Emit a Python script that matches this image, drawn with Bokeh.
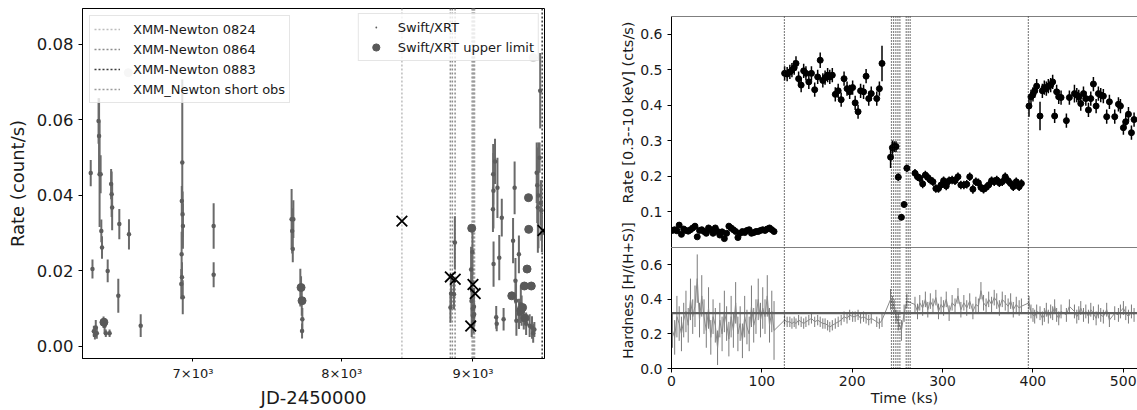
import numpy as np
from bokeh.plotting import figure
from bokeh.layouts import row, column
from bokeh.models import (Range1d, FixedTicker, Span, Legend, LegendItem,
                          PrintfTickFormatter)
from bokeh.core.properties import value
from bokeh.embed import file_html
from bokeh.resources import INLINE

FONT = "DejaVu Sans"

# ---------------- Left panel data (JD-2450000, count/s) ----------------
swift_jd = [6386, 6396, 6404, 6410, 6415, 6421, 6431, 6434, 6437, 6443, 6447, 6451,
            6460, 6466, 6473, 6484, 6495, 6504, 6507, 6510, 6546, 6552, 6609, 6679,
            6933, 6930, 6935, 6937, 6929, 6931, 6927, 6936,
            7131, 7131,
            7648, 7652, 7656, 7660, 7708, 7713, 7718, 7722, 7720,
            8855, 8848, 8820, 8825,
            8985, 8992, 8995, 8988, 8998, 9002, 9005, 8990, 9008, 9010, 8996,
            9165, 9167, 9163, 9168, 9180, 9190, 9194, 9200, 9215, 9236, 9251, 9330,
            9343, 9350, 9355, 9358, 9379, 9380, 9395, 9402, 9420, 9440, 9470, 9490,
            9510, 9500, 9530, 9535, 9540, 9545, 9560, 9565, 9570, 9575, 9555]
swift_rate = [0.0459, 0.0205, 0.0040, 0.0030, 0.0050, 0.0035, 0.0597, 0.0557, 0.0456, 0.0456,
              0.0306, 0.0262, 0.0064, 0.0055, 0.0035, 0.0200, 0.0035, 0.0430, 0.0403, 0.0368,
              0.0134, 0.0324, 0.0297, 0.0055,
              0.0487, 0.0385, 0.0350, 0.0319, 0.0244, 0.0183, 0.0165, 0.0130,
              0.0319, 0.0190,
              0.0337, 0.0306, 0.0258, 0.0337, 0.0156, 0.0156, 0.0121, 0.0072, 0.0041,
              0.0275, 0.0138, 0.0103, 0.0140,
              0.0204, 0.0170, 0.0148, 0.0120, 0.0100, 0.0080, 0.0065, 0.0055, 0.0105, 0.0085, 0.0250,
              0.0456, 0.0412, 0.0363, 0.0218, 0.0490, 0.0077, 0.0060, 0.0420, 0.0235, 0.0341,
              0.0072, 0.0280, 0.0420, 0.0174, 0.0121, 0.0068, 0.0244, 0.0086, 0.0112, 0.0095,
              0.0075, 0.0060, 0.0055, 0.0050, 0.0045, 0.0035, 0.0460, 0.0427, 0.0368, 0.0400,
              0.0677, 0.0380, 0.0360, 0.0300, 0.0500]
swift_err = [0.0035, 0.0025, 0.0015, 0.0012, 0.002, 0.0015, 0.006, 0.010, 0.014, 0.005,
             0.003, 0.003, 0.0015, 0.002, 0.001, 0.003, 0.001, 0.004, 0.006, 0.006,
             0.0045, 0.004, 0.004, 0.003,
             0.022, 0.004, 0.006, 0.006, 0.006, 0.004, 0.004, 0.0045,
             0.006, 0.0033,
             0.008, 0.006, 0.0035, 0.005, 0.005, 0.003, 0.004, 0.003, 0.002,
             0.007, 0.004, 0.004, 0.004,
             0.006, 0.008, 0.005, 0.004, 0.004, 0.004, 0.003, 0.003, 0.005, 0.003, 0.006,
             0.008, 0.010, 0.006, 0.006, 0.006, 0.003, 0.002, 0.008, 0.006, 0.005,
             0.003, 0.006, 0.007, 0.006, 0.005, 0.004, 0.005, 0.004, 0.005, 0.004,
             0.003, 0.003, 0.003, 0.003, 0.002, 0.0025, 0.008, 0.010, 0.012, 0.014,
             0.010, 0.006, 0.008, 0.005, 0.004]
ul_jd = [6462, 7713, 7720, 8990, 9319, 9395, 9410, 9425, 9430, 9448, 9460, 9462, 9484]
ul_rate = [0.0064, 0.0156, 0.0121, 0.0313, 0.0134, 0.0095, 0.0103, 0.0160, 0.0075,
           0.0205, 0.0394, 0.0310, 0.0160]
faded_jd = [6605, 9500]
faded_rate = [0.0725, 0.0765]
xmm_jd = [8444, 8819, 8858, 9000, 9018, 8982, 9584]
xmm_rate = [0.0332, 0.0184, 0.0178, 0.0164, 0.0140, 0.0054, 0.0307]
obs_0824 = [8444]
obs_0864 = [8819, 8835, 8857]
obs_0883 = [9577]
obs_short = [8993, 9000, 9007, 9013]

# ---------------- Right panel data (ks) ----------------
time_ks = [1.0, 3.5, 6.0, 8.5, 11.0, 13.5, 16.0, 18.5, 21.0, 23.5, 26.0, 28.5, 31.0, 33.5,
           36.0, 38.5, 41.0, 43.5, 46.0, 48.5, 51.0, 53.5, 56.0, 58.5, 61.0, 63.5, 66.0,
           68.5, 71.0, 73.5, 76.0, 78.5, 81.0, 83.5, 86.0, 88.5, 91.0, 93.5, 96.0, 98.5,
           101.0, 103.5, 106.0, 108.5, 111.0, 113.5,
           125.2, 128.0, 131.0, 133.3, 135.8, 137.8, 140.7, 143.5, 146.3, 148.8, 152.0,
           154.9, 158.5, 161.8, 164.6, 167.5, 170.0, 172.8, 175.2, 178.0, 181.3, 184.5,
           187.8, 191.0, 194.3, 197.2, 200.5, 203.3, 206.5, 209.3, 212.6, 215.4, 218.3,
           221.1, 227.2, 230.1, 233.0,
           242.5, 244.5, 246.5, 248.5, 251.0, 254.5, 257.5, 260.5,
           269.5, 272.3, 274.8, 278.0, 281.0, 283.7, 286.5, 289.4, 292.6, 295.5, 298.4,
           301.2, 304.1, 307.3, 310.6, 313.8, 317.1, 320.3, 323.6, 326.8, 330.1, 333.6,
           336.9, 339.7, 342.5, 345.4, 348.2, 351.1, 354.3, 357.2, 360.0, 362.9, 366.1,
           369.4, 372.6, 375.4, 378.3, 381.6, 384.8, 387.3,
           395.7, 397.9, 400.1, 402.0, 404.2, 407.9, 410.5, 412.7, 414.9, 417.1, 419.7,
           421.9, 424.1, 426.3, 428.6, 431.2, 437.1, 440.4, 446.0, 448.6, 450.8, 453.0,
           456.0, 458.6, 461.5, 464.1, 467.0, 470.0, 472.5, 475.1, 478.0, 481.7, 484.7,
           490.6, 494.7, 496.9, 500.2, 502.8, 505.8, 509.1, 512.0]
rate = [0.048, 0.05, 0.047, 0.063, 0.037, 0.052, 0.048, 0.046, 0.05, 0.055, 0.06, 0.03,
        0.048, 0.05, 0.045, 0.04, 0.055, 0.05, 0.04, 0.055, 0.045, 0.035, 0.044, 0.025,
        0.04, 0.06, 0.055, 0.05, 0.045, 0.028, 0.04, 0.045, 0.042, 0.048, 0.05, 0.04,
        0.042, 0.045, 0.045, 0.048, 0.05, 0.048, 0.052, 0.055, 0.05, 0.045,
        0.49, 0.488, 0.494, 0.499, 0.506, 0.518, 0.475, 0.457, 0.497, 0.49, 0.466, 0.49,
        0.444, 0.48, 0.527, 0.47, 0.478, 0.485, 0.48, 0.485, 0.431, 0.441, 0.416, 0.475,
        0.447, 0.438, 0.45, 0.407, 0.382, 0.441, 0.438, 0.482, 0.419, 0.433, 0.419, 0.447,
        0.518,
        0.254, 0.281, 0.284, 0.284, 0.198, 0.085, 0.121, 0.223,
        0.209, 0.199, 0.195, 0.179, 0.204, 0.197, 0.19, 0.185, 0.166, 0.166, 0.176, 0.188,
        0.173, 0.188, 0.19, 0.188, 0.199, 0.176, 0.176, 0.178, 0.199, 0.164, 0.185, 0.182,
        0.169, 0.164, 0.169, 0.176, 0.188, 0.185, 0.19, 0.182, 0.185, 0.199, 0.188, 0.18,
        0.171, 0.185, 0.171, 0.18,
        0.398, 0.424, 0.431, 0.441, 0.454, 0.37, 0.441, 0.45, 0.447, 0.454, 0.457, 0.466,
        0.37, 0.438, 0.424, 0.422, 0.357, 0.422, 0.433, 0.429, 0.424, 0.405, 0.433, 0.419,
        0.387, 0.419, 0.46, 0.398, 0.433, 0.429, 0.426, 0.368, 0.41, 0.368, 0.403, 0.398,
        0.337, 0.354, 0.375, 0.323, 0.36]
rate_err = [0.006, 0.006, 0.006, 0.007, 0.006, 0.006, 0.006, 0.006, 0.006, 0.007, 0.008, 0.006,
            0.006, 0.006, 0.006, 0.006, 0.007, 0.006, 0.006, 0.006, 0.006, 0.006, 0.006, 0.006,
            0.006, 0.007, 0.006, 0.006, 0.006, 0.006, 0.006, 0.006, 0.006, 0.006, 0.006, 0.006,
            0.006, 0.006, 0.006, 0.006, 0.006, 0.006, 0.006, 0.007, 0.006, 0.006,
            0.02, 0.02, 0.02, 0.02, 0.02, 0.02, 0.02, 0.02, 0.02, 0.02, 0.02, 0.02, 0.02, 0.02,
            0.022, 0.02, 0.02, 0.02, 0.02, 0.02, 0.02, 0.02, 0.02, 0.02, 0.02, 0.02, 0.02, 0.02,
            0.02, 0.02, 0.02, 0.02, 0.02, 0.02, 0.02, 0.02, 0.05,
            0.03, 0.02, 0.015, 0.015, 0.01, 0.008, 0.008, 0.01,
            0.012, 0.012, 0.012, 0.012, 0.012, 0.012, 0.012, 0.012, 0.012, 0.012, 0.012, 0.012,
            0.012, 0.012, 0.012, 0.012, 0.012, 0.012, 0.012, 0.012, 0.012, 0.013, 0.012, 0.012,
            0.012, 0.012, 0.012, 0.012, 0.012, 0.012, 0.012, 0.012, 0.012, 0.012, 0.012, 0.012,
            0.012, 0.012, 0.012, 0.012,
            0.03, 0.02, 0.02, 0.02, 0.02, 0.04, 0.02, 0.02, 0.02, 0.02, 0.02, 0.02,
            0.02, 0.02, 0.02, 0.02, 0.02, 0.02, 0.025, 0.02, 0.02, 0.02, 0.02, 0.02,
            0.02, 0.02, 0.02, 0.02, 0.02, 0.02, 0.02, 0.02, 0.02, 0.02, 0.02, 0.02,
            0.02, 0.02, 0.02, 0.02, 0.02]
hardness = [0.22, 0.18, 0.3, 0.26, 0.2, 0.28, 0.33, 0.25, 0.4, 0.3, 0.36, 0.52, 0.28, 0.42,
            0.3, 0.22, 0.35, 0.18, 0.3, 0.25, 0.12, 0.28, 0.2, 0.33, 0.26, 0.17, 0.3, 0.22,
            0.38, 0.2, 0.26, 0.16, 0.3, 0.24, 0.2, 0.36, 0.25, 0.3, 0.4, 0.28, 0.35, 0.3,
            0.42, 0.25, 0.33, 0.22,
            0.28, 0.27, 0.27, 0.26, 0.27, 0.26, 0.28, 0.27, 0.26, 0.27, 0.28, 0.29, 0.27,
            0.28, 0.27, 0.26, 0.26, 0.25, 0.24, 0.25, 0.26, 0.27, 0.28, 0.3, 0.29, 0.31,
            0.3, 0.3, 0.31, 0.29, 0.3, 0.29, 0.28, 0.29, 0.27, 0.26, 0.28,
            0.4, 0.38, 0.36, 0.3, 0.27, 0.22, 0.32, 0.39,
            0.37, 0.33, 0.38, 0.35, 0.4, 0.34, 0.39, 0.36, 0.41, 0.33, 0.37, 0.35, 0.4, 0.32,
            0.38, 0.36, 0.42, 0.34, 0.38, 0.35, 0.39, 0.33, 0.37, 0.36, 0.45, 0.38, 0.36, 0.4,
            0.37, 0.41, 0.39, 0.35, 0.4, 0.38, 0.36, 0.39, 0.34, 0.37, 0.35, 0.36,
            0.38, 0.33, 0.31, 0.3, 0.33, 0.32, 0.29, 0.31, 0.34, 0.3, 0.33, 0.32, 0.36, 0.31,
            0.29, 0.33, 0.31, 0.36, 0.33, 0.3, 0.32, 0.35, 0.31, 0.33, 0.3, 0.34, 0.32, 0.29,
            0.33, 0.31, 0.3, 0.34, 0.28, 0.32, 0.31, 0.33, 0.35, 0.32, 0.3, 0.33, 0.31]
hard_err = [0.1, 0.1, 0.12, 0.1, 0.1, 0.1, 0.12, 0.1, 0.12, 0.1, 0.12, 0.14, 0.1, 0.12,
            0.1, 0.1, 0.12, 0.1, 0.1, 0.1, 0.1, 0.1, 0.1, 0.12, 0.1, 0.1, 0.12, 0.1,
            0.12, 0.1, 0.1, 0.1, 0.12, 0.1, 0.1, 0.12, 0.1, 0.1, 0.12, 0.1, 0.12, 0.1,
            0.12, 0.1, 0.12, 0.17,
            0.03, 0.03, 0.03, 0.03, 0.03, 0.03, 0.03, 0.03, 0.03, 0.03, 0.03, 0.03, 0.03,
            0.03, 0.03, 0.03, 0.03, 0.03, 0.03, 0.03, 0.03, 0.03, 0.03, 0.03, 0.03, 0.03,
            0.03, 0.03, 0.03, 0.03, 0.03, 0.03, 0.03, 0.03, 0.03, 0.03, 0.04,
            0.06, 0.04, 0.04, 0.04, 0.05, 0.06, 0.05, 0.04,
            0.045, 0.045, 0.045, 0.045, 0.045, 0.045, 0.045, 0.045, 0.045, 0.045, 0.045,
            0.045, 0.045, 0.045, 0.045, 0.045, 0.045, 0.045, 0.045, 0.045, 0.045, 0.045,
            0.045, 0.045, 0.05, 0.045, 0.045, 0.045, 0.045, 0.045, 0.045, 0.045, 0.045,
            0.045, 0.045, 0.045, 0.045, 0.045, 0.045, 0.045,
            0.04, 0.04, 0.04, 0.04, 0.04, 0.04, 0.04, 0.04, 0.04, 0.04, 0.04, 0.04, 0.04,
            0.04, 0.04, 0.04, 0.04, 0.04, 0.04, 0.04, 0.04, 0.04, 0.04, 0.04, 0.04, 0.04,
            0.04, 0.04, 0.04, 0.04, 0.04, 0.04, 0.04, 0.04, 0.04, 0.04, 0.04, 0.04, 0.04,
            0.04, 0.04]
hardness_mean = 0.32
xmm_cuts_ks = [125.0, 243.5, 245.8, 248.3, 250.6, 252.8, 259.8, 262.0, 264.2, 395.0]
rate_ylabel = "Rate [0.3--10 keV] (cts/s)"
hard_ylabel = "Hardness [H/(H+S)]"

# ---------------- helpers ----------------
def style_axis(ax, tick_px, label_px, tick_out=4, standoff=5, label_standoff=5):
    ax.major_label_text_font = FONT
    ax.major_label_text_font_size = tick_px
    ax.major_label_text_color = "#1a1a1a"
    ax.axis_label_text_font = FONT
    ax.axis_label_text_font_size = label_px
    ax.axis_label_text_font_style = "normal"
    ax.axis_label_text_color = "#1a1a1a"
    ax.axis_line_color = "black"
    ax.major_tick_line_color = "black"
    ax.major_tick_out = tick_out
    ax.major_tick_in = 0
    ax.minor_tick_line_color = None
    ax.major_label_standoff = standoff
    ax.axis_label_standoff = label_standoff


# ---------------- Left figure ----------------
YMIN, YMAX = -0.0032, 0.0895
p1 = figure(width=556, height=410, x_axis_type="log",
            x_range=Range1d(6339, 9597), y_range=Range1d(YMIN, YMAX),
            output_backend="svg", toolbar_location=None,
            min_border_left=82, min_border_right=12, min_border_top=8, min_border_bottom=52)
p1.xgrid.visible = False
p1.ygrid.visible = False
p1.outline_line_color = "black"


def vlines(xs, color):
    return p1.segment(x0=xs, x1=xs, y0=[YMIN] * len(xs), y1=[YMAX] * len(xs),
                      line_color=color, line_dash="2 2", line_width=1.5)


r0824 = vlines(obs_0824, "#bdbdbd")
r0864 = vlines(obs_0864, "#8c8c8c")
r0883 = vlines(obs_0883, "#3a3a3a")
rshort = vlines(obs_short, "#9a9a9a")

sj = np.array(swift_jd, dtype=float)
sr = np.array(swift_rate)
se = np.array(swift_err)
p1.segment(x0=sj, x1=sj, y0=sr - se, y1=sr + se, line_color="#6a6a6a", line_width=2)
r_sw = p1.scatter(swift_jd, swift_rate, marker="dot", size=18, color="#5c5c5c")
r_ul = p1.scatter(ul_jd, ul_rate, size=8, color="#595959")
p1.scatter(faded_jd, faded_rate, size=8, color="#cfcfcf")
p1.scatter(xmm_jd, xmm_rate, marker="x", size=15, line_color="black", line_width=1.8)

p1.xaxis.ticker = FixedTicker(ticks=[7000, 8000, 9000], minor_ticks=[])
p1.xaxis.major_label_overrides = {7000: "7×10³", 8000: "8×10³", 9000: "9×10³"}
p1.yaxis.ticker = FixedTicker(ticks=[0.0, 0.02, 0.04, 0.06, 0.08], minor_ticks=[])
p1.yaxis.formatter = PrintfTickFormatter(format="%.2f")
p1.xaxis.axis_label = "JD-2450000"
p1.yaxis.axis_label = "Rate (count/s)"
style_axis(p1.xaxis[0], "13px", "18px", tick_out=3, standoff=4, label_standoff=3)
style_axis(p1.yaxis[0], "16.5px", "18px", tick_out=4, standoff=5, label_standoff=6)


def style_legend(leg):
    leg.label_text_font = FONT
    leg.label_text_font_size = "13px"
    leg.label_text_color = "#1a1a1a"
    leg.border_line_color = "#cccccc"
    leg.border_line_width = 1
    leg.background_fill_alpha = 0.8
    leg.label_height = 18
    leg.glyph_height = 18
    leg.spacing = 2
    leg.padding = 4


leg1 = Legend(items=[LegendItem(label="XMM-Newton 0824", renderers=[r0824]),
                     LegendItem(label="XMM-Newton 0864", renderers=[r0864]),
                     LegendItem(label="XMM-Newton 0883", renderers=[r0883]),
                     LegendItem(label="XMM_Newton short obs", renderers=[rshort])],
              location="top_left")
style_legend(leg1)
leg1.margin = 7
leg1.glyph_width = 26
leg1.label_standoff = 13
p1.add_layout(leg1)

leg2 = Legend(items=[LegendItem(label="Swift/XRT", renderers=[r_sw]),
                     LegendItem(label="Swift/XRT upper limit", renderers=[r_ul])],
              location="top_right")
style_legend(leg2)
leg2.margin = 5
leg2.glyph_width = 26
leg2.label_standoff = 9
p1.add_layout(leg2)

# ---------------- y-label strip for the right panels ----------------
# Its frame is aligned with the left panel's frame (page rows 8..358), so its
# y range is given in page pixel rows.
pl = figure(width=80, height=410, x_range=Range1d(0, 80), y_range=Range1d(358, 8),
            x_axis_location=None, y_axis_location=None, title=None,
            output_backend="svg", toolbar_location=None,
            min_border_left=0, min_border_right=0, min_border_top=8, min_border_bottom=52)
pl.xgrid.visible = False
pl.ygrid.visible = False
pl.outline_line_color = None
pl.text(x=[71], y=[112], text=[rate_ylabel], angle=np.pi / 2,
        text_align="center", text_baseline="middle", text_font=value(FONT),
        text_font_size=value("14.5px"), text_color="#1a1a1a")
pl.text(x=[71], y=[290], text=[hard_ylabel], angle=np.pi / 2,
        text_align="center", text_baseline="middle", text_font=value(FONT),
        text_font_size=value("13.8px"), text_color="#1a1a1a")

# ---------------- Right figures ----------------
xr = Range1d(0, 515.8)
t = np.array(time_ks)
rt = np.array(rate)
re = np.array(rate_err)
hd = np.array(hardness)
he = np.array(hard_err)

p2 = figure(width=501, height=247, x_range=xr, y_range=Range1d(0, 0.65),
            x_axis_location=None, output_backend="svg", toolbar_location=None,
            min_border_left=35, min_border_right=0, min_border_top=16, min_border_bottom=0)
p2.xgrid.visible = False
p2.ygrid.visible = False
p2.outline_line_color = None
for xc in xmm_cuts_ks:
    p2.add_layout(Span(location=xc, dimension="height", line_color="#111111",
                       line_dash="1 2", line_width=1.2))
p2.add_layout(Span(location=0.65, dimension="width", line_color="black", line_width=1.2))
p2.add_layout(Span(location=0.0, dimension="width", line_color="black", line_width=1.2))
p2.segment(x0=t, x1=t, y0=rt - re, y1=rt + re, line_color="black", line_width=1.5)
p2.scatter(time_ks, rate, size=6, color="black")
p2.yaxis.ticker = FixedTicker(ticks=[0.1, 0.2, 0.3, 0.4, 0.5, 0.6], minor_ticks=[])
p2.yaxis.formatter = PrintfTickFormatter(format="%.1f")
style_axis(p2.yaxis[0], "14px", "14px", tick_out=4, standoff=5, label_standoff=6)

p3 = figure(width=501, height=163, x_range=xr, y_range=Range1d(0, 0.7),
            output_backend="svg", toolbar_location=None,
            min_border_left=35, min_border_right=0, min_border_top=0, min_border_bottom=42)
p3.xgrid.visible = False
p3.ygrid.visible = False
p3.outline_line_color = None
for xc in xmm_cuts_ks:
    p3.add_layout(Span(location=xc, dimension="height", line_color="#111111",
                       line_dash="1 2", line_width=1.2))
p3.add_layout(Span(location=0.7, dimension="width", line_color="black", line_width=1.2))
p3.segment(x0=t, x1=t, y0=hd - he, y1=hd + he, line_color="#7a7a7a", line_width=1)
p3.line(time_ks, hardness, line_color="#8a8a8a", line_width=1)
p3.add_layout(Span(location=hardness_mean, dimension="width", line_color="#5f5f5f",
                   line_width=2.2))
p3.xaxis.ticker = FixedTicker(ticks=[0, 100, 200, 300, 400, 500], minor_ticks=[])
p3.yaxis.ticker = FixedTicker(ticks=[0.0, 0.2, 0.4, 0.6], minor_ticks=[])
p3.yaxis.formatter = PrintfTickFormatter(format="%.1f")
p3.xaxis.axis_label = "Time (ks)"
style_axis(p3.xaxis[0], "14px", "14.5px", tick_out=4, standoff=3, label_standoff=1)
style_axis(p3.yaxis[0], "14px", "14px", tick_out=4, standoff=5, label_standoff=6)

layout = row(p1, pl, column(p2, p3))
open("out.html", "w").write(file_html(layout, INLINE))
